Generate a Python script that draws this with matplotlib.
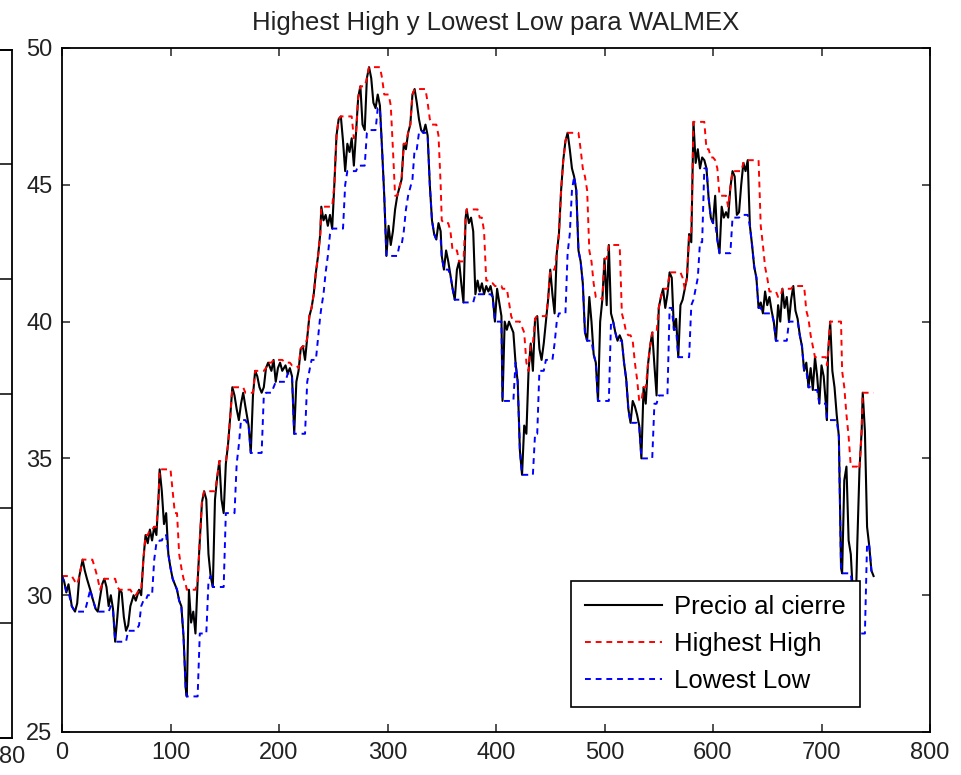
import numpy as np
import pandas as pd
import matplotlib
matplotlib.use("Agg")
import matplotlib.pyplot as plt

plt.rcParams['font.family'] = ['Liberation Sans', 'DejaVu Sans']

title = "Highest High y Lowest Low para WALMEX"
labels = ["Precio al cierre", "Highest High", "Lowest Low"]
window_days = "11D"

days = [0, 2, 4, 6, 9, 12, 14, 16, 19, 21, 23, 26, 28, 31, 33, 35, 37, 39, 41, 43,
        45, 47, 49, 51, 53, 55, 57, 59, 61, 63, 66, 68, 71, 73, 75, 77, 79, 81, 83, 85,
        87, 89, 90, 92, 94, 96, 98, 100, 102, 104,
        106, 108, 110, 112, 114, 115, 117, 119, 121, 123, 125, 127, 129, 131, 133, 135,
        137, 139, 141, 143, 145, 147, 149, 151, 153, 155, 157, 159, 161, 163, 165, 167,
        169, 172, 174, 176, 178, 180, 182, 184, 186, 188, 190, 193, 195, 197,
        199, 201, 203, 206, 208, 210, 212, 214, 216, 218, 220, 222, 224, 226, 228, 230,
        232, 234, 236, 238, 239, 241, 243, 245, 247, 249, 251, 253, 255, 257, 259, 261,
        263, 265, 267, 269, 271, 273, 275, 277, 279, 281, 283, 285, 287, 289, 291, 293,
        295, 297, 299,
        301, 303, 305, 307, 309, 311, 313, 315, 317, 319, 321, 323, 325, 327, 329, 331,
        333, 335, 337, 339, 341, 343, 345, 347, 349, 350, 352, 354, 356, 358, 360, 362,
        364, 366, 368, 370, 372, 373, 375, 377, 379, 381, 383, 385, 387, 389, 391, 393,
        395, 397, 399,
        401, 403, 405, 406, 408, 410, 412, 414, 416, 418, 420, 422, 424, 426, 428, 430,
        432, 434, 436, 438, 440, 442, 444, 446, 448, 450, 452, 454, 456, 458, 460, 462,
        464, 466, 468, 470, 472, 474, 476, 478, 480, 482, 484, 486, 488, 490, 492, 494,
        496, 498, 500,
        502, 504, 506, 508, 510, 512, 514, 516, 518, 520, 522, 524, 526, 528, 530, 532,
        534, 536, 538, 540, 542, 544, 546, 548, 550, 552, 554, 556, 558, 560, 562, 564,
        566, 568, 570, 572, 574, 576, 578, 580, 582, 584, 586, 588, 590, 592, 594, 596,
        598, 600,
        602, 604, 606, 608, 610, 612, 614, 616, 618, 620, 622, 624, 626, 628, 630, 632,
        634, 636, 638, 640, 642, 644, 646, 648, 650, 652, 654, 656, 658, 660, 662, 664,
        666, 668, 670, 672, 674, 676, 678, 680, 682, 684, 686, 688, 690, 692, 694, 696,
        698, 700,
        702, 704, 705, 706, 708, 710, 712, 714, 716, 718, 719, 721, 723, 725, 727, 729,
        731, 733, 735, 737, 738, 740, 742, 744, 746, 748]

close = [30.7, 30.5, 30.1, 30.4, 29.6, 29.4, 29.7, 30.7, 31.3, 30.9, 30.6, 30.2, 29.9, 29.5, 29.4, 29.9, 30.4, 30.6, 30.3, 29.6,
         30.0, 29.5, 28.3, 29.2, 30.2, 30.1, 29.2, 28.7, 28.9, 29.6, 30.0, 29.8, 30.2, 30.0, 31.3, 32.2, 31.9, 32.4, 32.0, 32.5,
         32.2, 33.6, 34.6, 33.8, 32.6, 33.0, 31.5, 31.0, 30.6, 30.4,
         30.2, 29.8, 29.6, 28.5, 26.6, 26.3, 30.2, 29.0, 29.4, 28.6, 30.5, 32.0, 33.4, 33.8, 33.5, 31.5,
         30.7, 30.3, 33.5, 34.3, 34.9, 33.5, 33.0, 34.8, 35.5, 36.5, 37.6, 37.3, 36.8, 36.4, 37.0, 37.4,
         36.9, 36.2, 35.2, 37.3, 38.2, 38.0, 37.6, 37.4, 37.6, 38.3, 38.5, 38.2, 38.6, 37.8,
         38.3, 38.5, 38.2, 38.4, 38.1, 38.3, 38.0, 35.9, 37.8, 38.2, 39.0, 39.1, 38.6, 39.4, 40.2, 40.5,
         41.0, 41.8, 42.4, 43.2, 44.2, 43.7, 43.9, 43.5, 43.9, 43.4, 45.0, 46.8, 47.4, 47.5, 46.6, 45.5,
         46.5, 46.2, 46.7, 45.7, 46.9, 48.2, 48.6, 47.2, 47.0, 48.9, 49.3, 48.9, 48.0, 47.8, 48.3, 47.9,
         46.3, 44.6, 42.4,
         43.5, 42.8, 43.3, 44.1, 44.6, 44.9, 45.2, 46.5, 46.3, 46.9, 47.2, 48.3, 48.5, 48.0, 47.4, 47.0,
         46.9, 47.2, 46.8, 45.0, 43.7, 43.2, 43.0, 43.6, 43.3, 42.4, 41.9, 42.6, 42.2, 41.7, 41.2, 40.8,
         41.9, 42.2, 41.4, 40.7, 43.8, 44.1, 43.6, 43.8, 43.3, 41.0, 41.5, 41.1, 41.4, 41.0, 41.3, 41.1,
         41.3, 40.9, 40.0,
         41.2, 40.7, 40.2, 37.1, 40.0, 39.7, 40.0, 39.8, 39.6, 38.5, 37.8, 35.3, 34.4, 36.2, 35.9, 38.2,
         39.2, 38.2, 40.1, 40.2, 39.0, 38.6, 39.2, 40.0, 40.8, 41.9, 41.0, 40.3, 42.5, 43.2, 44.8, 45.9,
         46.6, 46.9, 46.3, 45.6, 45.3, 44.8, 42.6, 42.2, 41.4, 39.6, 39.3, 40.9, 40.0, 38.8, 38.5, 37.1,
         40.0, 40.8, 42.3,
         40.6, 42.8, 40.3, 40.0, 39.6, 39.3, 39.5, 39.3, 38.5, 37.9, 36.8, 36.3, 37.1, 36.9, 36.6, 36.2,
         35.0, 37.6, 37.0, 38.4, 39.1, 39.6, 38.4, 37.3, 40.5, 40.9, 41.2, 40.5, 41.0, 41.8, 41.6, 39.7,
         40.1, 38.7, 40.6, 40.8, 41.2, 41.6, 43.2, 42.9, 47.3, 45.8, 46.3, 45.6, 46.0, 45.9, 45.6, 44.5,
         43.8, 43.6,
         44.6, 43.0, 42.5, 44.2, 43.8, 44.0, 43.8, 44.9, 45.5, 45.3, 43.9, 44.0, 45.0, 45.8, 45.5, 45.9,
         43.5, 42.8, 42.0, 41.6, 40.5, 40.7, 40.3, 41.1, 40.6, 40.9, 40.4, 40.0, 39.3, 40.6, 40.0, 41.2,
         40.5, 40.9, 40.0, 40.8, 41.3, 40.4, 40.1, 39.5, 39.1, 38.2, 38.5, 37.6, 38.3, 37.5, 38.7, 38.0,
         37.0, 38.4,
         38.0, 37.0, 36.4, 38.8, 40.0, 38.2, 37.6, 36.6, 35.8, 31.0, 30.8, 34.2, 34.7, 32.0, 31.5, 30.0,
         28.6, 31.9, 34.6, 36.0, 37.4, 36.0, 32.5, 31.8, 30.9, 30.7]

x_ticks = [0, 100, 200, 300, 400, 500, 600, 700, 800]
y_ticks = [25, 30, 35, 40, 45, 50]

s = pd.Series(close, index=pd.to_datetime(days, unit="D"))
highest_high = s.rolling(window_days).max().to_numpy()
lowest_low = s.rolling(window_days).min().to_numpy()

W, H = 962, 775
fig = plt.figure(figsize=(W / 100, H / 100), dpi=100)

# partially visible neighbouring axes at the left edge
axl = fig.add_axes([-0.5, 1 - 737.5 / H, 0.5 + 12 / W, (737.5 - 49.5) / H])
axl.set_xlim(0, 80)
axl.set_ylim(0, 6)
axl.set_xticks([80])
axl.set_xticklabels(["80"])
axl.set_yticks(range(7))
axl.tick_params(axis='y', which='both', left=False, right=True, labelleft=False,
                direction='in', length=9, width=1.1)
axl.tick_params(axis='x', direction='in', length=0, labelsize=17, pad=6, colors='#222222')
for sp in axl.spines.values():
    sp.set_linewidth(1.3)

ax = fig.add_axes([62 / W, 1 - 732 / H, (930 - 62) / W, (732 - 48) / H])
ax.plot(days, close, color='black', lw=1.5, label=labels[0])
ax.plot(days, highest_high, color='red', lw=1.4, ls=(0, (3, 2.5)), label=labels[1])
ax.plot(days, lowest_low, color='blue', lw=1.4, ls=(0, (3, 2.5)), label=labels[2])

ax.set_xlim(0, 800)
ax.set_ylim(25, 50)
ax.set_xticks(x_ticks)
ax.set_yticks(y_ticks)
ax.tick_params(direction='in', length=6, width=1.1, top=True, right=True,
               labelsize=17, colors='#222222', pad=7)
for sp in ax.spines.values():
    sp.set_linewidth(1.3)
ax.set_title(title, fontsize=18.5, color='#222222', pad=13)

leg = ax.legend(loc='lower right', bbox_to_anchor=(0.919, 0.0365), borderaxespad=0,
                fontsize=18.5, handlelength=3.0, handletextpad=0.45, labelspacing=0.5,
                fancybox=False, framealpha=1, edgecolor='black', borderpad=0.55)
leg.get_frame().set_linewidth(1.2)

fig.savefig("out.png", dpi=100)
